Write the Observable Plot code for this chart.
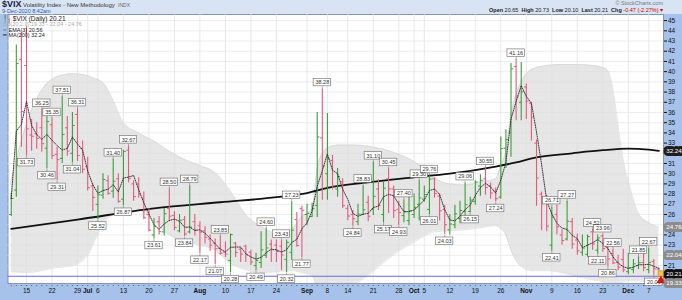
<!DOCTYPE html>
<html><head><meta charset="utf-8">
<script src="https://cdn.jsdelivr.net/npm/d3@7"></script>
<script src="https://cdn.jsdelivr.net/npm/@observablehq/plot@0.6"></script>
<style>
body{margin:0;background:#fff;}
#wrap{position:relative;width:682px;height:300px;overflow:hidden;background:#a6c2ea;font-family:"Liberation Sans",Arial,sans-serif;}
#chart{position:absolute;left:0;top:0;}
#head{position:absolute;left:0;top:0;width:682px;height:14px;background:#d8e4f4;}
.t{position:absolute;white-space:nowrap;line-height:1;}
</style></head>
<body>
<div id="wrap">
  <div id="chart"></div>
  <div id="head">
    <span class="t" style="left:2px;top:0px;font-size:9px;font-weight:bold;color:#16243f;">$VIX</span>
    <span class="t" style="left:23px;top:2px;font-size:6px;color:#333;">Volatility Index - New Methodology&nbsp; <span style="font-size:5px;color:#666">INDX</span></span>
    <span class="t" style="left:2px;top:8.5px;font-size:5.5px;color:#2b57b5;">9-Dec-2020 8:42am</span>
    <span class="t" style="right:19px;top:0.5px;font-size:5.5px;color:#777;">© StockCharts.com</span>
    <span class="t" style="right:19px;top:8px;font-size:5.5px;color:#222;"><b>Open</b> 20.65 &nbsp;<b>High</b> 20.73 &nbsp;<b>Low</b> 20.10 &nbsp;<b>Last</b> 20.21 &nbsp;<b>Chg</b> <span style="color:#c00">-0.47 (-2.27%) ▾</span></span>
  </div>
  <span class="t" style="left:3px;top:15.5px;font-size:6.5px;color:#222;"><span style="color:#3c9f3c">╿</span><span style="color:#e2567a">╽</span> $VIX (Daily) 20.21</span>
  <span class="t" style="left:3px;top:22px;font-size:5.5px;color:#aaa;">BB(20,2.0) 19.33 - 22.04 - 24.76</span>
  <span class="t" style="left:3px;top:27.5px;font-size:5.5px;color:#222;">╌ EMA(3) 20.56</span>
  <span class="t" style="left:3px;top:33px;font-size:5.5px;color:#222;">━ MA(200) 32.24</span>
</div>
<script>
// ---- data ----
const dates = [
"2020-06-10","2020-06-11","2020-06-12","2020-06-15","2020-06-16","2020-06-17","2020-06-18","2020-06-19","2020-06-22","2020-06-23","2020-06-24","2020-06-25","2020-06-26","2020-06-29","2020-06-30",
"2020-07-01","2020-07-02","2020-07-06","2020-07-07","2020-07-08","2020-07-09","2020-07-10","2020-07-13","2020-07-14","2020-07-15","2020-07-16","2020-07-17","2020-07-20","2020-07-21","2020-07-22","2020-07-23","2020-07-24","2020-07-27","2020-07-28","2020-07-29","2020-07-30","2020-07-31",
"2020-08-03","2020-08-04","2020-08-05","2020-08-06","2020-08-07","2020-08-10","2020-08-11","2020-08-12","2020-08-13","2020-08-14","2020-08-17","2020-08-18","2020-08-19","2020-08-20","2020-08-21","2020-08-24","2020-08-25","2020-08-26","2020-08-27","2020-08-28","2020-08-31",
"2020-09-01","2020-09-02","2020-09-03","2020-09-04","2020-09-08","2020-09-09","2020-09-10","2020-09-11","2020-09-14","2020-09-15","2020-09-16","2020-09-17","2020-09-18","2020-09-21","2020-09-22","2020-09-23","2020-09-24","2020-09-25","2020-09-28","2020-09-29","2020-09-30",
"2020-10-01","2020-10-02","2020-10-05","2020-10-06","2020-10-07","2020-10-08","2020-10-09","2020-10-12","2020-10-13","2020-10-14","2020-10-15","2020-10-16","2020-10-19","2020-10-20","2020-10-21","2020-10-22","2020-10-23","2020-10-26","2020-10-27","2020-10-28","2020-10-29","2020-10-30",
"2020-11-02","2020-11-03","2020-11-04","2020-11-05","2020-11-06","2020-11-09","2020-11-10","2020-11-11","2020-11-12","2020-11-13","2020-11-16","2020-11-17","2020-11-18","2020-11-19","2020-11-20","2020-11-23","2020-11-24","2020-11-25","2020-11-27","2020-11-30",
"2020-12-01","2020-12-02","2020-12-03","2020-12-04","2020-12-07","2020-12-08","2020-12-09"];
const open = [26.0,28.4,41.2,40.6,33.8,33.9,34.5,32.5,34.8,31.9,31.5,34.5,32.0,35.8,32.5,
30.7,28.8,27.0,27.9,29.3,28.3,29.5,27.5,32.3,29.0,29.0,27.6,26.0,24.0,25.3,24.3,26.6,25.9,24.4,25.5,24.3,25.3,
24.9,24.4,23.6,23.2,22.7,22.3,21.5,23.2,22.6,22.9,22.3,21.0,21.3,22.0,23.1,23.0,22.9,21.6,22.3,25.5,26.6,
26.0,25.8,26.9,33.5,30.0,31.3,28.5,29.2,26.6,26.0,25.3,26.0,27.2,26.5,28.5,26.0,29.5,28.5,26.5,25.9,25.4,
26.0,27.0,27.5,26.5,29.5,27.8,26.5,24.5,25.0,25.6,26.3,26.3,27.3,28.8,29.5,28.8,28.3,27.7,32.5,34.0,40.5,37.0,
38.5,36.9,33.0,28.0,27.6,23.0,26.0,24.0,23.6,25.3,23.5,22.3,22.1,24.3,22.5,23.9,22.8,22.2,21.3,21.6,
20.4,20.6,21.0,21.3,20.6,21.4,20.65];
const high = [28.1,42.6,43.8,44.4,35.3,35.0,36.25,35.6,35.35,32.6,37.51,35.6,36.0,36.31,33.2,
31.6,29.0,28.8,30.0,29.8,31.40,30.0,32.3,32.67,29.3,29.6,28.2,26.6,25.6,25.8,26.6,28.50,26.3,26.0,25.8,28.79,26.0,
25.3,24.8,24.0,23.6,23.85,23.3,24.1,23.25,22.7,23.0,22.5,22.2,24.3,24.60,23.5,23.5,23.43,23.5,27.23,26.2,26.8,
27.0,27.1,36.0,38.28,35.9,31.8,30.5,29.5,26.9,26.4,27.0,28.83,27.8,31.10,29.4,29.2,30.45,28.8,27.3,27.40,28.0,
28.0,29.30,28.8,29.76,29.6,28.0,26.9,26.0,26.9,27.3,29.06,27.7,29.3,29.9,30.55,29.1,28.6,33.6,34.3,40.8,41.16,40.9,
38.8,37.0,33.3,28.2,27.9,26.71,26.9,24.5,27.27,25.6,24.1,24.0,24.0,24.52,24.0,23.96,23.0,22.56,22.0,22.6,
22.2,21.6,21.85,22.2,22.67,21.6,20.73];
const low = [25.8,27.7,32.6,31.73,32.2,32.4,32.1,30.46,31.4,29.31,31.0,31.7,31.04,31.2,30.0,
28.3,26.3,25.52,27.5,27.9,27.6,27.1,26.87,29.1,27.3,27.6,25.5,24.3,23.61,24.0,23.9,25.3,24.4,24.2,23.84,24.1,23.9,
22.17,23.1,22.4,21.07,22.0,21.8,20.28,21.8,21.3,21.3,21.0,20.49,20.7,21.7,21.3,21.3,20.5,20.32,21.5,22.8,21.77,
24.9,25.7,25.7,27.4,27.4,28.4,27.7,26.6,25.4,24.84,24.9,25.9,25.3,25.9,26.4,25.17,26.1,25.6,24.93,25.2,24.9,
25.6,25.4,27.2,26.01,27.6,25.4,24.03,24.0,24.6,25.1,25.5,26.15,26.9,27.8,27.9,27.5,27.24,27.5,30.5,31.6,35.2,35.2,
35.3,33.2,26.8,24.4,24.3,22.41,24.0,23.0,23.4,22.6,22.0,21.9,21.81,22.5,22.11,22.3,20.86,21.1,20.5,20.3,
20.1,20.2,20.6,20.4,20.2,20.0,20.10];
const close = [27.57,40.79,36.09,34.40,33.67,33.47,32.94,35.12,31.77,31.37,33.84,32.22,34.73,31.78,30.43,
28.62,27.68,27.94,29.43,28.08,29.26,27.29,32.19,29.52,27.76,28.00,25.68,24.46,24.84,24.32,26.08,25.84,24.74,25.44,24.10,24.76,24.46,
24.28,23.76,22.99,22.65,22.21,22.13,24.03,22.28,22.13,22.05,21.35,21.51,22.54,22.72,22.54,22.37,22.03,23.27,24.47,22.96,26.41,
26.12,26.57,33.60,30.75,31.46,28.81,29.71,26.87,25.85,25.59,26.04,26.46,25.83,27.78,26.86,28.58,28.51,26.38,26.19,26.27,26.37,
26.70,27.63,27.96,29.48,28.06,26.36,25.00,25.07,26.07,26.40,26.97,27.41,29.18,29.35,28.65,28.11,27.55,32.46,33.35,40.28,37.59,38.02,
37.13,35.55,29.57,27.58,24.86,25.75,24.80,23.45,25.35,23.10,22.45,22.71,23.84,23.11,23.70,22.66,21.64,21.25,20.84,20.57,
20.77,21.17,21.28,20.79,21.30,20.68,20.21];

// Bollinger band (20,2) edges read at sample bars
const bbIdx   = [0,3,6,9,12,15,16,18,20,22,25,28,31,34,37,40,43,46,49,52,55,57,59,60,61,62,64,67,70,73,76,79,81,83,86,89,92,95,96,97,98,99,100,102,105,108,111,114,116,117,118,119,120,121,123,125,127];
const bbUpper = [29.3,34.9,38.2,39.5,39.8,39.6,39.4,38.9,37.2,35.0,34.0,33.2,32.2,31.4,30.8,30.1,28.3,26.0,24.8,24.2,24.6,25.8,26.6,30.5,32.0,32.5,32.8,32.8,32.7,32.4,31.9,31.2,30.5,29.6,29.0,28.9,29.2,29.5,30.8,32.3,35.8,37.8,39.0,40.2,40.6,40.7,40.7,40.6,40.4,40.1,38.2,34.7,31.3,29.3,26.1,25.2,24.76];
const bbLower = [20.4,20.3,20.5,20.8,21.0,22.0,23.0,25.0,26.0,26.3,26.4,25.3,24.0,23.4,23.0,22.5,21.2,20.6,20.3,20.4,20.5,20.3,20.0,18.8,18.3,18.2,18.5,19.1,20.0,21.3,22.4,23.3,23.9,24.3,24.4,24.5,24.7,24.9,24.6,24.0,22.5,21.5,20.9,20.5,20.5,20.3,19.9,19.6,19.4,19.2,19.0,19.2,19.4,19.5,19.5,19.4,19.33];
// MA(200) read at sample bars
const maIdx = [0,13,28,41,52,58,62,69,78,86,95,99,103,110,116,121,125,127];
const maVal = [24.6,25.5,26.6,27.2,27.7,28.1,28.6,29.1,29.6,30.0,30.7,31.1,31.6,32.0,32.3,32.45,32.35,32.24];
// annotated highs / lows (bar numbers)
const hiLabelIdx = [6,8,10,13,20,23,31,35,41,50,53,55,61,69,71,74,77,80,82,89,93,99,106,109,114,116,118,123,125];
const loLabelIdx = [3,7,9,12,17,22,28,34,37,40,43,48,54,57,67,73,76,82,85,90,95,106,115,117,126];
// axes
const tickDates = ["2020-06-15","2020-06-22","2020-06-29","2020-07-01","2020-07-06","2020-07-13","2020-07-20","2020-07-27","2020-08-03","2020-08-10","2020-08-17","2020-08-24","2020-09-01","2020-09-08","2020-09-14","2020-09-21","2020-09-28","2020-10-01","2020-10-05","2020-10-12","2020-10-19","2020-10-26","2020-11-02","2020-11-09","2020-11-16","2020-11-23","2020-12-01","2020-12-07"];
const tickLabels = ["15","22","29","Jul","6","13","20","27","Aug","10","17","24","Sep","8","14","21","28","Oct","5","12","19","26","Nov","9","16","23","Dec","7"];
const monthNames = ["Jul","Aug","Sep","Oct","Nov","Dec"];
const yGrid = [21,22,23,24,25,26,27,28,29,30,31,32,33,34,35,36,37,38,39,40,41,42,43,44,45];
const yTickLabels = [21,23,24,26,27,28,29,30,31,33,34,35,36,37,38,39,40,41,42,43,44,45]; // 22, 25, 32 hidden under value tags
const hLevel = [19.95];
const tagValues = [32.24,24.76,22.04,20.21,19.33];
const tagKinds  = ["ma","bb","bb","last","bb"];

// ---- build ----
const GREEN = "#3b9e3b", RED = "#e45a7c";
const rows = dates.map((d,i)=>({i, o:open[i], h:high[i], l:low[i], c:close[i]}));
const col = r => r.c >= r.o ? GREEN : RED;
const bbRows = bbIdx.map((i,k)=>({i, hi:bbUpper[k], lo:bbLower[k]}));
const maRows = maIdx.map((i,k)=>({i, v:maVal[k]}));
const tickIdx = tickDates.map(d=>dates.indexOf(d));
const tickMap = new Map(tickIdx.map((t,k)=>[t,tickLabels[k]]));
const hiLab = hiLabelIdx.map(i=>({i, v:high[i], t:high[i].toFixed(2)}));
const loLab = loLabelIdx.map(i=>({i, v:low[i], t:low[i].toFixed(2)}));
const tagBg = {ma:"#1e1e1e", bb:"#8c8c8c", last:"#111"};
const tags = tagValues.map((v,k)=>({v, t:v.toFixed(2), bg:tagBg[tagKinds[k]]}));
const last = rows[rows.length-1];
const BW = 1.7, GAP = 0.28, BH = 0.74;

const chart = Plot.plot({
  width: 682, height: 300,
  marginTop: 14, marginBottom: 17, marginLeft: 7.5, marginRight: 19,
  style: {background:"transparent", fontFamily:"Liberation Sans, Arial, sans-serif", fontSize:"6.5px", color:"#111", overflow:"visible"},
  color: {type:"identity"},
  x: {domain:[-0.63, 127.9], ticks: tickIdx, tickFormat: i => tickMap.get(i) ?? "", tickSize: 0, tickPadding: 5, label: null},
  y: {domain:[19.24, 45.6], axis:"right", ticks: yTickLabels, tickSize: 3, tickPadding: 1.5, tickFormat: d=>String(d), label: null},
  marks: [
    Plot.frame({fill:"white", stroke:"#8796ad"}),
    Plot.ruleY(yGrid, {stroke:"#e7e7e7", strokeWidth:0.8}),
    Plot.ruleX(tickIdx, {stroke:"#e2e2e2", strokeWidth:0.8}),
    Plot.areaY(bbRows, {x:"i", y1:"lo", y2:"hi", fill:"#dedede", fillOpacity:0.75, curve:"monotone-x", clip:true}),
    Plot.line(bbRows, {x:"i", y:"hi", stroke:"#d2d2d2", strokeWidth:0.6, curve:"monotone-x", clip:true}),
    Plot.line(bbRows, {x:"i", y:"lo", stroke:"#d2d2d2", strokeWidth:0.6, curve:"monotone-x", clip:true}),
    Plot.ruleY(hLevel, {stroke:"#6b6bd8", strokeWidth:1}),
    Plot.line(maRows, {x:"i", y:"v", stroke:"#111", strokeWidth:1.8, curve:"monotone-x"}),
    Plot.ruleX(rows, {x:"i", y1:"l", y2:"h", stroke: col, strokeWidth:1.1}),
    Plot.link(rows, {x1: r=>r.i-0.45, x2:"i", y1:"o", y2:"o", stroke: col, strokeWidth:1}),
    Plot.link(rows, {x1:"i", x2: r=>r.i+0.45, y1:"c", y2:"c", stroke: col, strokeWidth:1}),
    Plot.line(rows, Plot.windowY({k:3, anchor:"end", reduce:"mean"}, {x:"i", y:"c", stroke:"#222", strokeWidth:0.9, strokeDasharray:"1 1.3"})),
    // annotation boxes
    Plot.link(hiLab, {x1:"i", x2:"i", y1:"v", y2: d=>d.v+GAP, stroke:"#777", strokeWidth:0.6}),
    Plot.link(loLab, {x1:"i", x2:"i", y1:"v", y2: d=>d.v-GAP, stroke:"#777", strokeWidth:0.6}),
    Plot.rect(hiLab, {x1: d=>d.i-BW, x2: d=>d.i+BW, y1: d=>d.v+GAP, y2: d=>d.v+GAP+BH, fill:"white", stroke:"#666", strokeWidth:0.6}),
    Plot.rect(loLab, {x1: d=>d.i-BW, x2: d=>d.i+BW, y1: d=>d.v-GAP, y2: d=>d.v-GAP-BH, fill:"white", stroke:"#666", strokeWidth:0.6}),
    Plot.text(hiLab, {x:"i", y: d=>d.v+GAP+BH/2, text:"t", fontSize:5.5, fill:"#333"}),
    Plot.text(loLab, {x:"i", y: d=>d.v-GAP-BH/2, text:"t", fontSize:5.5, fill:"#333"}),
    // daily tick dashes under the frame
    Plot.dot(rows, {x:"i", frameAnchor:"bottom", r:0.6, fill:"#555", stroke:null, dy:2}),
    // last price marker and arrow
    Plot.dot([last], {x:"i", y:"c", symbol:"square", r:3.2, fill:"#f3c440", stroke:"#c08a10", strokeWidth:0.6, dx:2}),
    Plot.dot([last], {x:"i", frameAnchor:"bottom", symbol:"triangle", r:3.2, fill:"#e01010", stroke:null, dx:2, dy:-3}),
    // right-axis value tags
    Plot.text(tags, {y:"v", frameAnchor:"right", text:"t", dx:10.5, fill:"white", stroke:"bg", strokeWidth:6, paintOrder:"stroke", fontSize:6.2, textAnchor:"middle"})
  ]
});
chart.querySelectorAll("text").forEach(t=>{ if (monthNames.includes(t.textContent)) t.setAttribute("font-weight","bold"); });
document.getElementById("chart").appendChild(chart);
</script>
</body></html>
